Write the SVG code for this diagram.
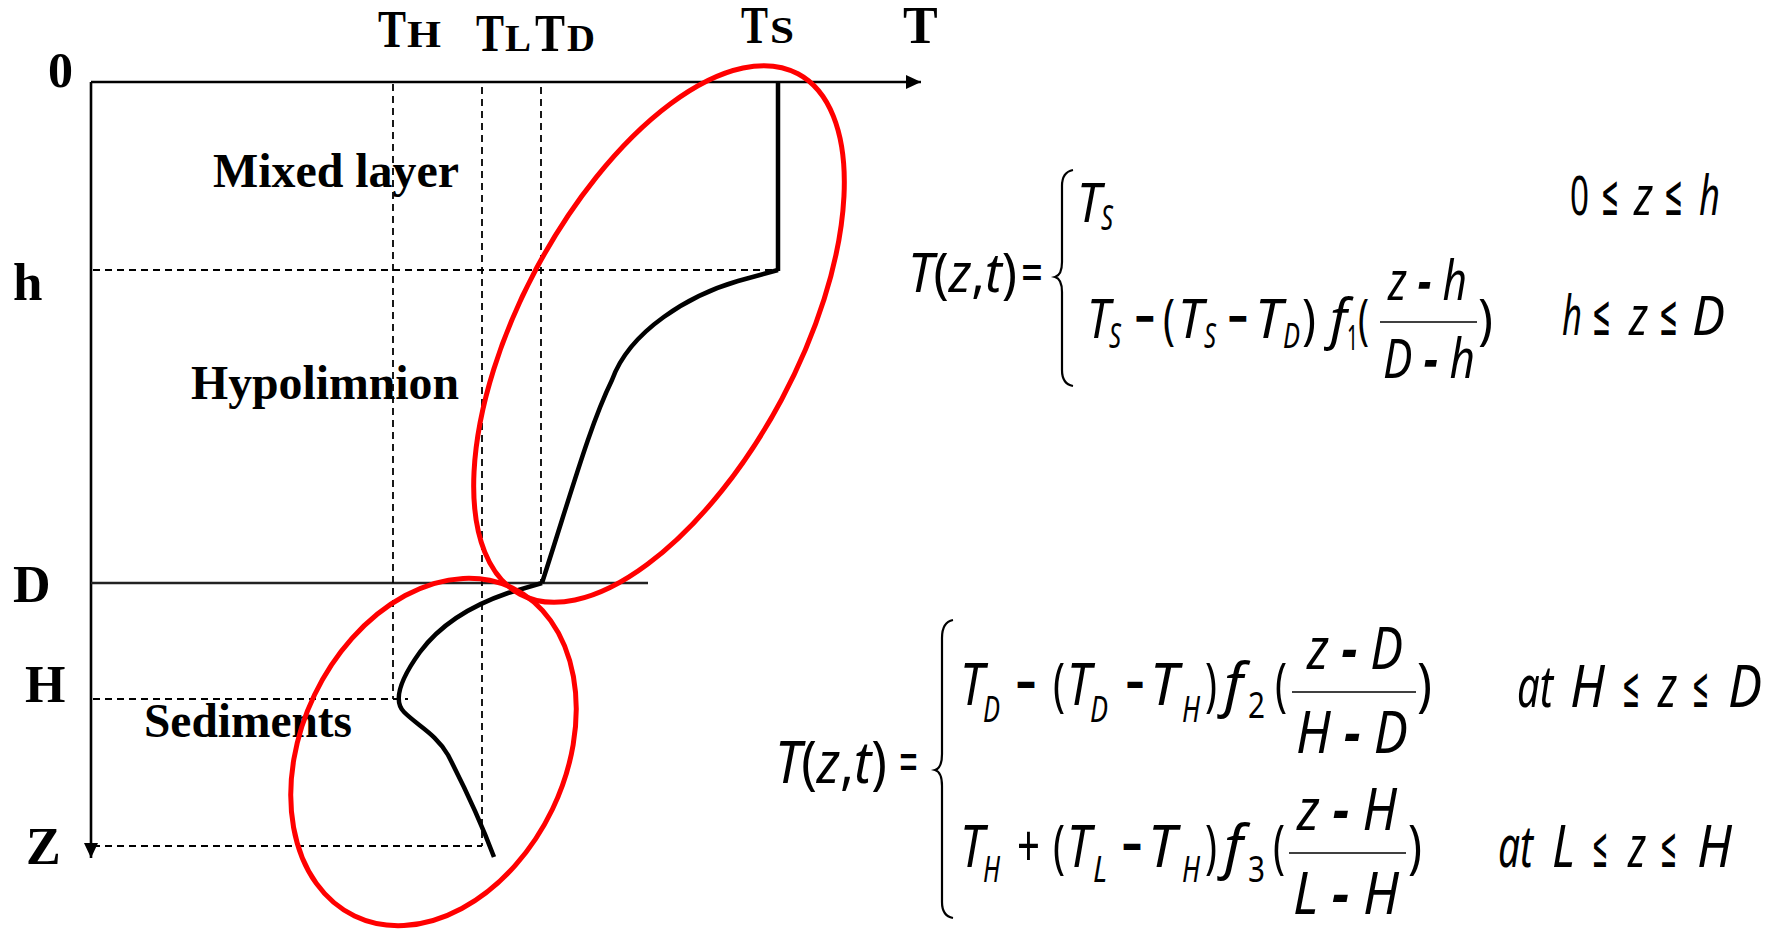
<svg xmlns="http://www.w3.org/2000/svg" width="1779" height="929" viewBox="0 0 1779 929">
<style>
.lbl{font-family:"Liberation Serif","Times New Roman",serif;font-weight:bold;fill:#000}
.m{font-family:"Noto Sans","DejaVu Sans",sans-serif;fill:#000}
.i{font-style:italic}
.mn{font-weight:bold}
.le{font-family:"DejaVu Sans",sans-serif;font-style:normal;font-size:58px}
.axis{stroke:#000;stroke-width:2.6;fill:none}
.dash{stroke:#000;stroke-width:1.8;stroke-dasharray:7 5;fill:none}
.curve{stroke:#000;stroke-width:4.5;fill:none;stroke-linejoin:round}
.ring{stroke:#ff0000;stroke-width:5;fill:none}
.brace{stroke:#000;stroke-width:2.2;fill:none}
.bar{stroke:#000;stroke-width:1.6}
</style>
<defs>
<marker id="arr" markerUnits="userSpaceOnUse" markerWidth="16" markerHeight="14" refX="15" refY="7" orient="auto">
<path d="M0,0 L15,7 L0,14 z" fill="#000"/>
</marker>
</defs>
<rect width="1779" height="929" fill="#fff"/>

<g id="labels">
<text class="lbl" x="213" y="187" font-size="48" textLength="246" lengthAdjust="spacingAndGlyphs">Mixed layer</text>
<text class="lbl" x="191" y="399" font-size="48" textLength="268" lengthAdjust="spacingAndGlyphs">Hypolimnion</text>
<text class="lbl" x="144" y="737" font-size="48" textLength="208" lengthAdjust="spacingAndGlyphs">Sediments</text>
<text class="lbl" x="48" y="87" font-size="50">0</text>
<text class="lbl" x="13" y="300" font-size="53">h</text>
<text class="lbl" x="13" y="602" font-size="52">D</text>
<text class="lbl" x="25" y="702" font-size="52">H</text>
<text class="lbl" x="26" y="864" font-size="52">Z</text>
<text class="lbl" x="903" y="43" font-size="52">T</text>
<text class="lbl" x="378" y="47" font-size="52" textLength="28" lengthAdjust="spacingAndGlyphs">T</text>
<text class="lbl" x="407" y="47" font-size="38" textLength="34" lengthAdjust="spacingAndGlyphs">H</text>
<text class="lbl" x="476" y="51" font-size="52" textLength="28" lengthAdjust="spacingAndGlyphs">T</text>
<text class="lbl" x="505" y="51" font-size="38" textLength="26" lengthAdjust="spacingAndGlyphs">L</text>
<text class="lbl" x="535" y="51" font-size="52" textLength="30" lengthAdjust="spacingAndGlyphs">T</text>
<text class="lbl" x="567" y="51" font-size="38" textLength="28" lengthAdjust="spacingAndGlyphs">D</text>
<text class="lbl" x="741" y="43" font-size="52" textLength="27" lengthAdjust="spacingAndGlyphs">T</text>
<text class="lbl" x="770" y="43" font-size="38" textLength="24" lengthAdjust="spacingAndGlyphs">S</text>
</g>

<g id="connectors">
<line class="axis" x1="91" y1="82" x2="921" y2="82" marker-end="url(#arr)"/>
<line class="axis" x1="91" y1="82" x2="91" y2="858" marker-end="url(#arr)"/>
<line x1="91" y1="583" x2="648" y2="583" stroke="#222" stroke-width="2.4"/>
<line class="dash" x1="393" y1="84" x2="393" y2="699"/>
<line class="dash" x1="482" y1="87" x2="482" y2="846"/>
<line class="dash" x1="541" y1="87" x2="541" y2="583"/>
<line class="dash" x1="93" y1="270" x2="778" y2="270"/>
<line class="dash" x1="93" y1="699" x2="408" y2="699"/>
<line class="dash" x1="93" y1="846" x2="482" y2="846"/>
<line x1="778" y1="82" x2="778" y2="271" stroke="#000" stroke-width="4.5"/>
<path class="curve" d="M778,270 L738,281 C690,295 630,330 612,380 C590,425 572,490 542,583"/>
<path class="curve" d="M542,583 L508,593 C470,606 440,625 420,652 C402,677 392,700 404,712 C418,726 436,734 448,755 C466,790 482,825 494,857"/>
</g>

<g id="highlights">
<ellipse class="ring" cx="659" cy="334" rx="295" ry="139" transform="rotate(-61.9 659 334)"/>
<ellipse class="ring" cx="433.5" cy="752" rx="182" ry="132" transform="rotate(-64.3 433.5 752)"/>
</g>

<g id="formula1" class="m" font-size="55">
<text x="908" y="292" textLength="109" lengthAdjust="spacingAndGlyphs"><tspan class="i">T</tspan>(<tspan class="i">z</tspan>,<tspan class="i">t</tspan>)</text>
<text x="1021" y="292" textLength="22" lengthAdjust="spacingAndGlyphs">=</text>
<path class="brace" d="M1073,170 Q1062,172 1062,186 L1062,262 Q1062,275 1055,277 Q1062,279 1062,292 L1062,370 Q1062,384 1073,386"/>
<text class="i" x="1077" y="222" textLength="24" lengthAdjust="spacingAndGlyphs">T</text>
<text class="i" x="1101" y="230" font-size="34" textLength="12" lengthAdjust="spacingAndGlyphs">S</text>
<text class="i" x="1087" y="338" textLength="23" lengthAdjust="spacingAndGlyphs">T</text>
<text class="i" x="1109" y="348" font-size="34" textLength="12" lengthAdjust="spacingAndGlyphs">S</text>
<text class="mn" x="1135" y="338" textLength="20" lengthAdjust="spacingAndGlyphs">−</text>
<text x="1163" y="338" textLength="12" lengthAdjust="spacingAndGlyphs">(</text>
<text class="i" x="1178" y="338" textLength="25" lengthAdjust="spacingAndGlyphs">T</text>
<text class="i" x="1204" y="348" font-size="34" textLength="12" lengthAdjust="spacingAndGlyphs">S</text>
<text class="mn" x="1228" y="338" textLength="20" lengthAdjust="spacingAndGlyphs">−</text>
<text class="i" x="1255" y="338" textLength="27" lengthAdjust="spacingAndGlyphs">T</text>
<text class="i" x="1283" y="348" font-size="34" textLength="17" lengthAdjust="spacingAndGlyphs">D</text>
<text x="1302" y="338" textLength="14" lengthAdjust="spacingAndGlyphs">)</text>
<text class="i" x="1330" y="338" textLength="17" lengthAdjust="spacingAndGlyphs">f</text>
<text x="1347" y="350" font-size="34" textLength="11" lengthAdjust="spacingAndGlyphs">1</text>
<text x="1358" y="338" textLength="11" lengthAdjust="spacingAndGlyphs">(</text>
<text class="i" x="1388" y="300" textLength="79" lengthAdjust="spacingAndGlyphs">z <tspan class="mn">−</tspan> h</text>
<line class="bar" x1="1380" y1="322" x2="1477" y2="322"/>
<text class="i" x="1383" y="378" textLength="92" lengthAdjust="spacingAndGlyphs">D <tspan class="mn">−</tspan> h</text>
<text x="1478" y="338" textLength="15" lengthAdjust="spacingAndGlyphs">)</text>
<text x="1570" y="215" textLength="19" lengthAdjust="spacingAndGlyphs">0</text>
<text class="le" x="1601" y="215" textLength="18" lengthAdjust="spacingAndGlyphs">≤</text>
<text class="i" x="1634" y="215" textLength="19" lengthAdjust="spacingAndGlyphs">z</text>
<text class="le" x="1664" y="215" textLength="19" lengthAdjust="spacingAndGlyphs">≤</text>
<text class="i" x="1699" y="215" textLength="21" lengthAdjust="spacingAndGlyphs">h</text>
<text class="i" x="1562" y="335" textLength="20" lengthAdjust="spacingAndGlyphs">h</text>
<text class="le" x="1592" y="335" textLength="19" lengthAdjust="spacingAndGlyphs">≤</text>
<text class="i" x="1629" y="335" textLength="19" lengthAdjust="spacingAndGlyphs">z</text>
<text class="le" x="1659" y="335" textLength="19" lengthAdjust="spacingAndGlyphs">≤</text>
<text class="i" x="1692" y="335" textLength="33" lengthAdjust="spacingAndGlyphs">D</text>
</g>

<g id="formula2" class="m" font-size="58">
<text x="775" y="783" textLength="112" lengthAdjust="spacingAndGlyphs"><tspan class="i">T</tspan>(<tspan class="i">z</tspan>,<tspan class="i">t</tspan>)</text>
<text x="899" y="783" textLength="19" lengthAdjust="spacingAndGlyphs">=</text>
<path class="brace" d="M953,620 Q942,622 942,638 L942,754 Q942,768 935,770 Q942,772 942,786 L942,902 Q942,916 953,918"/>
<text class="i" x="960" y="705" textLength="24" lengthAdjust="spacingAndGlyphs">T</text>
<text class="i" x="983" y="722" font-size="37" textLength="17" lengthAdjust="spacingAndGlyphs">D</text>
<text class="mn" x="1016" y="705" textLength="20" lengthAdjust="spacingAndGlyphs">−</text>
<text x="1053" y="705" textLength="12" lengthAdjust="spacingAndGlyphs">(</text>
<text class="i" x="1067" y="705" textLength="24" lengthAdjust="spacingAndGlyphs">T</text>
<text class="i" x="1090" y="722" font-size="37" textLength="18" lengthAdjust="spacingAndGlyphs">D</text>
<text class="mn" x="1126" y="705" textLength="18" lengthAdjust="spacingAndGlyphs">−</text>
<text class="i" x="1150" y="705" textLength="28" lengthAdjust="spacingAndGlyphs">T</text>
<text class="i" x="1182" y="722" font-size="37" textLength="18" lengthAdjust="spacingAndGlyphs">H</text>
<text x="1205" y="705" textLength="12" lengthAdjust="spacingAndGlyphs">)</text>
<text class="i" x="1224" y="705" textLength="19" lengthAdjust="spacingAndGlyphs">f</text>
<text x="1248" y="718" font-size="37" textLength="17" lengthAdjust="spacingAndGlyphs">2</text>
<text x="1275" y="705" textLength="12" lengthAdjust="spacingAndGlyphs">(</text>
<text class="i" x="1307" y="669" textLength="96" lengthAdjust="spacingAndGlyphs">z <tspan class="mn">−</tspan> D</text>
<line class="bar" x1="1292" y1="692" x2="1416" y2="692"/>
<text class="i" x="1296" y="753" textLength="112" lengthAdjust="spacingAndGlyphs">H <tspan class="mn">−</tspan> D</text>
<text x="1417" y="705" textLength="15" lengthAdjust="spacingAndGlyphs">)</text>
<text class="i" x="1517" y="707" textLength="36" lengthAdjust="spacingAndGlyphs">at</text>
<text class="i" x="1570" y="707" textLength="35" lengthAdjust="spacingAndGlyphs">H</text>
<text class="le" x="1622" y="707" textLength="18" lengthAdjust="spacingAndGlyphs">≤</text>
<text class="i" x="1658" y="707" textLength="19" lengthAdjust="spacingAndGlyphs">z</text>
<text class="le" x="1692" y="707" textLength="17" lengthAdjust="spacingAndGlyphs">≤</text>
<text class="i" x="1728" y="707" textLength="34" lengthAdjust="spacingAndGlyphs">D</text>
<text class="i" x="960" y="867" textLength="24" lengthAdjust="spacingAndGlyphs">T</text>
<text class="i" x="983" y="882" font-size="37" textLength="17" lengthAdjust="spacingAndGlyphs">H</text>
<text x="1017" y="867" textLength="23" lengthAdjust="spacingAndGlyphs">+</text>
<text x="1053" y="867" textLength="12" lengthAdjust="spacingAndGlyphs">(</text>
<text class="i" x="1067" y="867" textLength="24" lengthAdjust="spacingAndGlyphs">T</text>
<text class="i" x="1093" y="882" font-size="37" textLength="14" lengthAdjust="spacingAndGlyphs">L</text>
<text class="mn" x="1122" y="867" textLength="20" lengthAdjust="spacingAndGlyphs">−</text>
<text class="i" x="1148" y="867" textLength="28" lengthAdjust="spacingAndGlyphs">T</text>
<text class="i" x="1182" y="882" font-size="37" textLength="18" lengthAdjust="spacingAndGlyphs">H</text>
<text x="1205" y="867" textLength="12" lengthAdjust="spacingAndGlyphs">)</text>
<text class="i" x="1224" y="867" textLength="19" lengthAdjust="spacingAndGlyphs">f</text>
<text x="1248" y="882" font-size="37" textLength="17" lengthAdjust="spacingAndGlyphs">3</text>
<text x="1273" y="867" textLength="12" lengthAdjust="spacingAndGlyphs">(</text>
<text class="i" x="1297" y="830" textLength="100" lengthAdjust="spacingAndGlyphs">z <tspan class="mn">−</tspan> H</text>
<line class="bar" x1="1289" y1="853" x2="1406" y2="853"/>
<text class="i" x="1293" y="914" textLength="106" lengthAdjust="spacingAndGlyphs">L <tspan class="mn">−</tspan> H</text>
<text x="1408" y="867" textLength="14" lengthAdjust="spacingAndGlyphs">)</text>
<text class="i" x="1498" y="867" textLength="35" lengthAdjust="spacingAndGlyphs">at</text>
<text class="i" x="1552" y="867" textLength="23" lengthAdjust="spacingAndGlyphs">L</text>
<text class="le" x="1592" y="867" textLength="16" lengthAdjust="spacingAndGlyphs">≤</text>
<text class="i" x="1628" y="867" textLength="18" lengthAdjust="spacingAndGlyphs">z</text>
<text class="le" x="1660" y="867" textLength="17" lengthAdjust="spacingAndGlyphs">≤</text>
<text class="i" x="1697" y="867" textLength="35" lengthAdjust="spacingAndGlyphs">H</text>
</g>
</svg>
